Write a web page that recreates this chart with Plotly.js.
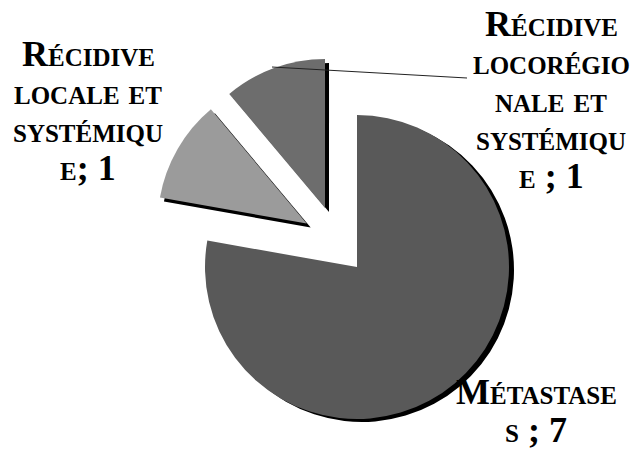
<!DOCTYPE html>
<html>
<head>
<meta charset="utf-8">
<script src="https://cdn.plot.ly/plotly-3.0.1.min.js"></script>
<style>
html,body{margin:0;padding:0;background:#fff;overflow:hidden;}
#wrap{width:635px;height:450px;overflow:hidden;position:relative;}
#chart{width:635px;height:500px;}
</style>
</head>
<body>
<div id="wrap"><div id="chart"></div></div>
<script>
// ---- data ----
const categories = ["Métastases", "Récidive locale et systémique", "Récidive locorégionale et systémique"];
const values = [7, 1, 1];
const exploded = [false, true, true];
const colors = ["#595959", "#9b9b9b", "#6d6d6d"];
// label text as laid out in the original (broken lines)
const labelLines = [
  ["Métastase", "s ; " + values[0]],
  ["Récidive", "locale et", "systémiqu", "e; " + values[1]],
  ["Récidive", "locorégio", "nale et", "systémiqu", "e ; " + values[2]]
];

// ---- layout helpers ----
const W = 635, H = 500;
const px = x => x / W;
const py = y => 1 - y / H;
const CLEAR = "rgba(0,0,0,0)";

// geometry (pixels): body slice and exploded slices
const bodyGeo = {cx: 357, cy: 267, r: 152, pull: 0};
const explGeo = {cx: 337, cy: 241, r: 149, pull: 0.235};

function dom(g, dx, dy) {
  const half = g.r * (1 + g.pull);
  return {
    x: [px(g.cx - half + dx), px(g.cx + half + dx)],
    y: [py(g.cy + half + dy), py(g.cy - half + dy)]
  };
}

function pieTrace(g, showExploded, colorFn, dx, dy) {
  return {
    type: "pie", labels: categories, values: values,
    pull: exploded.map(e => (e ? g.pull : 0)),
    sort: false, direction: "clockwise", rotation: 0,
    textinfo: "none", hoverinfo: "none", showlegend: false,
    domain: dom(g, dx, dy),
    marker: {colors: exploded.map((e, i) => (e === showExploded ? colorFn(i) : CLEAR)),
             line: {width: 0}}
  };
}

const traces = [
  pieTrace(bodyGeo, false, () => "#000000", 5, 3),
  pieTrace(explGeo, true, () => "#000000", 4, 4),
  pieTrace(bodyGeo, false, i => colors[i], 0, 0),
  pieTrace(explGeo, true, i => colors[i], 0, 0)
];

// label placement (center x, first line middle y, line step)
const labelPos = [
  {x: 536, y: 392, step: 38},
  {x: 88, y: 54, step: 38},
  {x: 551, y: 24, step: 38}
];

const annotations = [];
labelLines.forEach((lines, i) => {
  lines.forEach((t, j) => {
    annotations.push({
      xref: "paper", yref: "paper",
      x: px(labelPos[i].x), y: py(labelPos[i].y + j * labelPos[i].step),
      xanchor: "center", yanchor: "middle",
      text: t, showarrow: false,
      font: {family: "Liberation Serif", size: 36,
             color: "#000", weight: "bold", variant: "small-caps"}
    });
  });
});

const layout = {
  width: W, height: H,
  margin: {l: 0, r: 0, t: 0, b: 0},
  paper_bgcolor: "#ffffff",
  annotations: annotations,
  shapes: [{
    type: "line", xref: "paper", yref: "paper",
    x0: px(272), y0: py(67), x1: px(467), y1: py(78),
    line: {color: "#222222", width: 1}
  }]
};

Plotly.newPlot("chart", traces, layout, {staticPlot: true, displayModeBar: false});
</script>
</body>
</html>
